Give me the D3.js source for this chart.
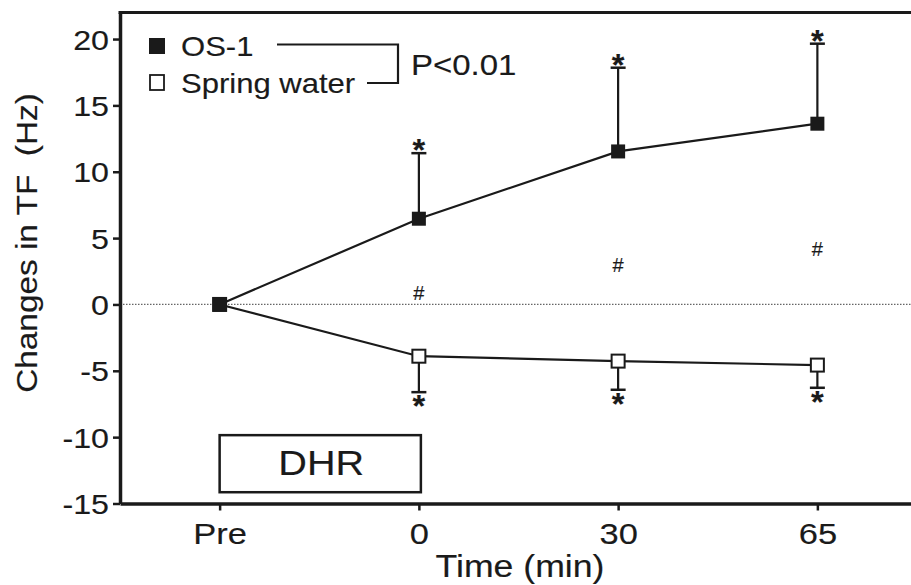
<!DOCTYPE html>
<html>
<head>
<meta charset="utf-8">
<script src="https://cdn.jsdelivr.net/npm/d3@7"></script>
<style>
  html, body { margin: 0; padding: 0; background: #fff; }
  svg { display: block; }
  text { font-family: "Liberation Sans", Arial, sans-serif; fill: #1a1a1a; stroke: #1a1a1a; stroke-width: 0.15; }
</style>
</head>
<body>
<svg id="chart" width="911" height="585"></svg>
<script>
// ---------- data ----------
const categories = ["Pre", "0", "30", "65"];
const os1Mean = [0, 6.46, 11.53, 13.62];
const os1Upper = [null, 11.40, 17.84, 19.65];
const springMean = [0, -3.90, -4.27, -4.57];
const springLower = [null, -6.61, -6.43, -6.28];
const hashValues = [null, 0.83, 3.0, 4.2];
const yTicks = [-15, -10, -5, 0, 5, 10, 15, 20];
const dhrCats = ["Pre", "0"];
const dhrValues = [-9.85, -14.15];
const legendLabels = ["OS-1", "Spring water"];
const pLabel = "P<0.01";
const xTitle = "Time (min)";
const yTitle = "Changes in TF\u00a0\u00a0(Hz)";

// ---------- layout ----------
const W = 911, H = 585;
const SX = 1.15;     // horizontal stretch of the type
const INK = "#1a1a1a";
const svg = d3.select("#chart");

const x = d3.scalePoint().domain(categories).range([120, 917]).padding(0.5);
const y = d3.scaleLinear().domain([-15, 22]).range([503.5, 12.5]);

function txt(g, px, py, s, size, anchor, rot, sx) {
  const t = g.append("text")
    .attr("transform", `translate(${px},${py})` + (rot ? ` rotate(${rot})` : "") + ` scale(${sx || SX},1)`)
    .attr("text-anchor", anchor || "start")
    .attr("font-size", size)
    .text(s);
  return t;
}

// zero reference line (dotted)
svg.append("line")
  .attr("x1", x.range()[0]).attr("x2", W)
  .attr("y1", y(0)).attr("y2", y(0))
  .attr("stroke", "#666").attr("stroke-width", 1.2)
  .attr("stroke-dasharray", "1.5,1.5");

// top frame
svg.append("line")
  .attr("x1", 118.5).attr("x2", W)
  .attr("y1", y(22)).attr("y2", y(22))
  .attr("stroke", INK).attr("stroke-width", 3.2);

// y axis
const yAxis = svg.append("g")
  .attr("transform", "translate(120,0)")
  .call(d3.axisLeft(y).tickValues(yTicks).tickSize(7).tickSizeOuter(0).tickFormat(d3.format("d")));
yAxis.select(".domain").attr("stroke", INK).attr("stroke-width", 3.5);
yAxis.selectAll(".tick line").attr("stroke", INK).attr("stroke-width", 2.5);
yAxis.selectAll(".tick text").remove();
yAxis.selectAll(".tick").each(function(d) {
  txt(d3.select(this), -11, 10, d, 28, "end");
});

// x axis
const xAxis = svg.append("g")
  .attr("transform", `translate(0,${y(-15)})`)
  .call(d3.axisBottom(x).tickSize(7).tickSizeOuter(0));
xAxis.select(".domain").attr("stroke", INK).attr("stroke-width", 3.5);
xAxis.selectAll(".tick line").attr("stroke", INK).attr("stroke-width", 2.5);
xAxis.selectAll(".tick text").remove();
xAxis.selectAll(".tick").each(function(d) {
  txt(d3.select(this), 0, 40, d, 30, "middle");
});

// axis titles
txt(svg, 520, 577, xTitle, 31, "middle");
txt(svg, 37, 243, yTitle, 29, "middle", -90);

// DHR box
svg.append("rect")
  .attr("x", x(dhrCats[0])).attr("y", y(dhrValues[0]))
  .attr("width", x(dhrCats[1]) - x(dhrCats[0]) + 2)
  .attr("height", y(dhrValues[1]) - y(dhrValues[0]))
  .attr("fill", "none").attr("stroke", INK).attr("stroke-width", 2.5);
txt(svg, (x(dhrCats[0]) + x(dhrCats[1])) / 2 + 2, (y(dhrValues[0]) + y(dhrValues[1])) / 2 + 11, "DHR", 36, "middle", 0, 1.1);

// error bars
function errBars(mean, ends, markSide) {
  categories.forEach((c, i) => {
    if (ends[i] == null) return;
    const cx = x(c);
    svg.append("line").attr("x1", cx).attr("x2", cx)
      .attr("y1", y(mean[i])).attr("y2", y(ends[i]))
      .attr("stroke", INK).attr("stroke-width", 2.2);
    svg.append("line").attr("x1", cx - 7.5).attr("x2", cx + 7.5)
      .attr("y1", y(ends[i])).attr("y2", y(ends[i]))
      .attr("stroke", INK).attr("stroke-width", 2.5);
    // significance asterisk
    const cy = y(ends[i]) + (markSide < 0 ? -9 : 8);
    txt(svg, cx, cy + 17, "*", 31, "middle", 0, 1.05).attr("font-weight", "bold");
  });
}
errBars(os1Mean, os1Upper, -1);
errBars(springMean, springLower, 1);

// lines
const lineGen = d3.line().x((d, i) => x(categories[i])).y(d => y(d));
svg.append("path").datum(springMean).attr("d", lineGen)
  .attr("fill", "none").attr("stroke", INK).attr("stroke-width", 2.2);
svg.append("path").datum(os1Mean).attr("d", lineGen)
  .attr("fill", "none").attr("stroke", INK).attr("stroke-width", 2.2);

// markers
const MS = 13;
svg.selectAll(".sp").data(springMean).enter().append("rect")
  .attr("x", (d, i) => x(categories[i]) - MS / 2).attr("y", d => y(d) - MS / 2)
  .attr("width", MS).attr("height", MS)
  .attr("fill", "#fff").attr("stroke", INK).attr("stroke-width", 2);
svg.selectAll(".os").data(os1Mean).enter().append("rect")
  .attr("x", (d, i) => x(categories[i]) - MS / 2 - 0.5).attr("y", d => y(d) - MS / 2 - 0.5)
  .attr("width", MS + 1).attr("height", MS + 1)
  .attr("fill", INK);

// hash marks
categories.forEach((c, i) => {
  if (hashValues[i] == null) return;
  txt(svg, x(c), y(hashValues[i]) + 7, "#", 20, "middle", 0, 1.0);
});

// legend
const lg = svg.append("g");
lg.append("rect").attr("x", 149).attr("y", 38).attr("width", 16).attr("height", 16).attr("fill", INK);
lg.append("rect").attr("x", 150).attr("y", 75).attr("width", 14).attr("height", 15)
  .attr("fill", "#fff").attr("stroke", INK).attr("stroke-width", 1.8);
txt(lg, 181, 56, legendLabels[0], 27, "start");
txt(lg, 181, 93, legendLabels[1], 27, "start");
lg.append("path")
  .attr("d", "M277,44.5 H398 V83 H367")
  .attr("fill", "none").attr("stroke", INK).attr("stroke-width", 2.2);
txt(lg, 411, 75, pLabel, 30, "start", 0, 1.1);
</script>
</body>
</html>
